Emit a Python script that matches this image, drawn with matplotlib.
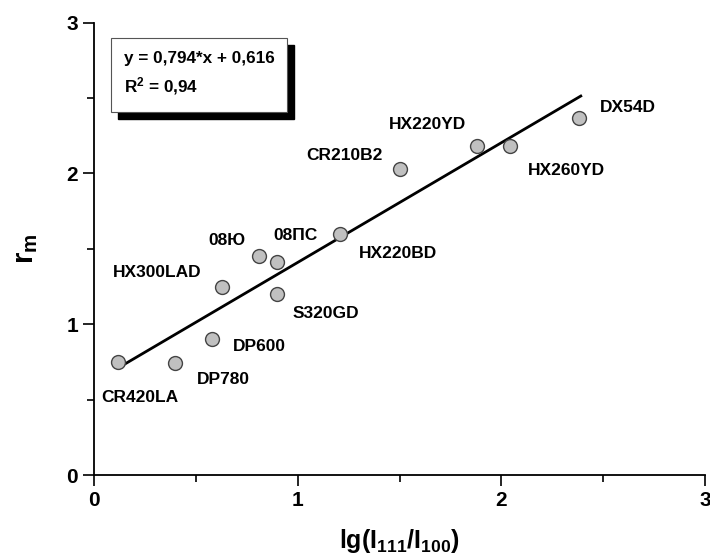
import matplotlib
matplotlib.use("Agg")
import matplotlib.pyplot as plt
from matplotlib.patches import Rectangle
from matplotlib.ticker import MultipleLocator

plt.rcParams['font.family'] = ['Liberation Sans', 'DejaVu Sans']
plt.rcParams['font.weight'] = 'bold'
plt.rcParams['mathtext.fontset'] = 'custom'
plt.rcParams['mathtext.rm'] = 'Liberation Sans:bold'
plt.rcParams['mathtext.it'] = 'Liberation Sans:bold'
plt.rcParams['mathtext.bf'] = 'Liberation Sans:bold'
plt.rcParams['mathtext.default'] = 'rm'

# steel grades: lg(I111/I100) vs r_m
names = ["CR420LA", "DP780", "DP600", "HX300LAD", "08Ю", "08ПС", "S320GD",
         "HX220BD", "CR210B2", "HX220YD", "HX260YD", "DX54D"]
lg_ratio = [0.12, 0.40, 0.58, 0.63, 0.81, 0.90, 0.90, 1.21, 1.50, 1.88, 2.04, 2.38]
r_m = [0.75, 0.74, 0.90, 1.25, 1.45, 1.41, 1.20, 1.60, 2.03, 2.18, 2.18, 2.37]

# linear fit from the chart
slope = 0.794
intercept = 0.616
fit_x = [0.12, 2.39]
fit_y = [slope * v + intercept for v in fit_x]

# label offsets in pixels (layout only)
offsets = {"CR420LA": (21, -36), "DP780": (48, -16), "DP600": (47, -7),
           "HX300LAD": (-65, 14), "08Ю": (-32, 16), "08ПС": (18, 27),
           "S320GD": (49, -19), "HX220BD": (58, -20), "CR210B2": (-55, 13),
           "HX220YD": (-49, 22), "HX260YD": (57, -24), "DX54D": (49, 10)}

fig = plt.figure(figsize=(7.1, 5.58), dpi=100)
ax = fig.add_axes([0.1324, 0.1487, 0.8606, 0.8106])

ax.plot(fit_x, fit_y, color='black', lw=2.0, zorder=2)
ax.plot(lg_ratio, r_m, 'o', ms=10, mfc='#c0c0c0', mec='#444444', mew=1.0,
        linestyle='none', zorder=3)

for n, x, y in zip(names, lg_ratio, r_m):
    dx, dy = offsets[n]
    ax.annotate(n, (x, y), xytext=(dx, dy), textcoords='offset pixels',
                ha='center', va='center', fontsize=12.5, fontweight='bold')

ax.set_xlim(0, 3)
ax.set_ylim(0, 3)
ax.xaxis.set_major_locator(MultipleLocator(1))
ax.yaxis.set_major_locator(MultipleLocator(1))
ax.xaxis.set_minor_locator(MultipleLocator(0.5))
ax.yaxis.set_minor_locator(MultipleLocator(0.5))
ax.tick_params(which='major', direction='out', length=8, width=1.2,
               labelsize=15)
ax.tick_params(which='minor', direction='out', length=5, width=1.2)
for lab in ax.get_xticklabels() + ax.get_yticklabels():
    lab.set_fontweight('bold')

ax.spines['top'].set_visible(False)
ax.spines['right'].set_visible(False)
ax.spines['left'].set_linewidth(1.3)
ax.spines['bottom'].set_linewidth(1.3)

ax.set_xlabel("lg(I$_{111}$/I$_{100}$)", fontsize=18, fontweight='bold', labelpad=12)
ax.set_ylabel("r$_m$", fontsize=21, fontweight='bold')
ax.yaxis.set_label_coords(-0.089, 0.5)

# equation box with shadow
bx, by, bw, bh = 0.028, 0.803, 0.288, 0.164
ax.add_patch(Rectangle((bx + 0.0115, by - 0.0155), bw, bh, transform=ax.transAxes,
                       facecolor='black', edgecolor='black', zorder=4, clip_on=False))
ax.add_patch(Rectangle((bx, by), bw, bh, transform=ax.transAxes,
                       facecolor='white', edgecolor='#555555', lw=0.8, zorder=5,
                       clip_on=False))
ax.text(bx + 0.021, by + 0.118, "y = 0,794*x + 0,616", transform=ax.transAxes,
        fontsize=12.3, fontweight='bold', va='center', ha='left', zorder=6)
ax.text(bx + 0.021, by + 0.058, "R$^2$ = 0,94", transform=ax.transAxes,
        fontsize=12.3, fontweight='bold', va='center', ha='left', zorder=6)

fig.savefig("out.png", dpi=100)
